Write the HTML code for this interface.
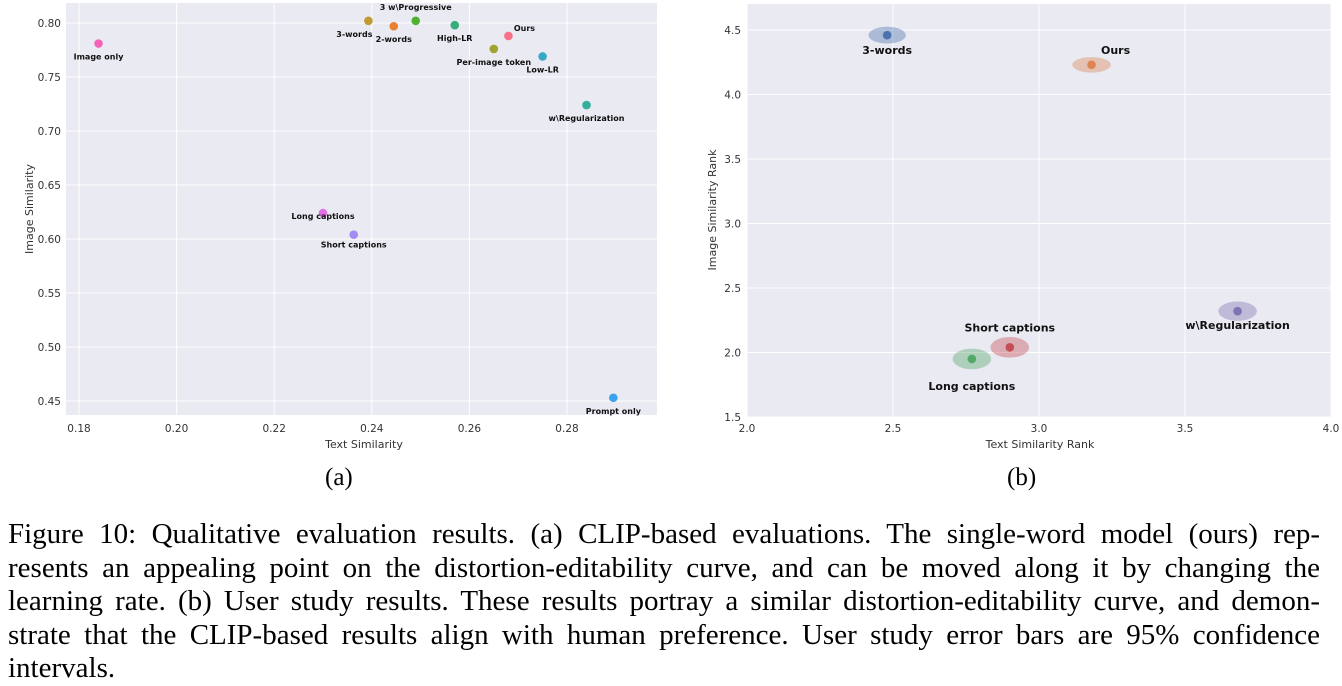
<!DOCTYPE html>
<html><head><meta charset="utf-8">
<style>
body{margin:0;background:#fff;width:1342px;height:682px;overflow:hidden;position:relative}
svg{position:absolute;left:0;top:0}
.cap{position:absolute;left:8px;top:518px;width:1312px;font-family:"Liberation Serif",serif;font-size:29px;line-height:33.6px;color:#000}
.cap div{text-align:justify;text-align-last:justify;white-space:nowrap}
.cap div.last{text-align-last:left}
.sub{position:absolute;top:464px;font-family:"Liberation Serif",serif;font-size:25px;color:#000}
</style></head><body>
<svg id="chart" width="1342" height="500"></svg>
<div class="sub" style="left:325px">(a)</div>
<div class="sub" style="left:1007px">(b)</div>
<div class="cap">
<div style="white-space:normal">Figure 10: Qualitative evaluation results. (a) CLIP-based evaluations. The single-word model (ours) rep-</div>
<div style="white-space:normal">resents an appealing point on the distortion-editability curve, and can be moved along it by changing the</div>
<div style="white-space:normal">learning rate. (b) User study results. These results portray a similar distortion-editability curve, and demon-</div>
<div style="white-space:normal">strate that the CLIP-based results align with human preference. User study error bars are 95% confidence</div>
<div class="last">intervals.</div>
</div>
<script>
const namesA=["Image only","3-words","2-words","3 w\\Progressive","High-LR","Ours","Per-image token","Low-LR","w\\Regularization","Long captions","Short captions","Prompt only"];
const textSimA=[0.184,0.2393,0.2445,0.249,0.257,0.268,0.265,0.275,0.284,0.230,0.2363,0.2895];
const imageSimA=[0.781,0.802,0.797,0.802,0.798,0.788,0.776,0.769,0.724,0.624,0.604,0.453];
const xTicksA=[0.18,0.20,0.22,0.24,0.26,0.28];
const yTicksA=[0.45,0.50,0.55,0.60,0.65,0.70,0.75,0.80];
const namesB=["3-words","Ours","w\\Regularization","Short captions","Long captions"];
const textRankB=[2.48,3.18,3.68,2.90,2.77];
const imageRankB=[4.46,4.23,2.32,2.04,1.95];
const xErrB=[0.064,0.066,0.066,0.066,0.066];
const yErrB=[0.065,0.06,0.075,0.08,0.08];
const xTicksB=[2.0,2.5,3.0,3.5,4.0];
const yTicksB=[1.5,2.0,2.5,3.0,3.5,4.0,4.5];

const colA=["#f563b8","#c09a30","#e8812d","#50b131","#36ae7c","#f77189","#a0a32f","#38a9c5","#34ae9d","#e46ee6","#a48cf4","#3ba3ec"];
const labOffA=[[0,16],[-14,16],[0,16],[0,-11],[0,16],[16,-5],[0,16],[0,16],[0,16],[0,6],[0,13],[0,16]];
const colB=["#4c72b0","#dd8452","#8172b3","#c44e52","#55a868"];
const labOffB=[[0,19],[24,-11],[0,18],[0,-16],[0,31]];

const svg=document.getElementById('chart');
const NS='http://www.w3.org/2000/svg';
function mk(tag,attrs,parent){const e=document.createElementNS(NS,tag);for(const k in attrs)e.setAttribute(k,attrs[k]);(parent||svg).appendChild(e);return e;}

// Panel A
const xA=v=>79+(v-0.18)/0.02*97.6, yA=v=>23+(0.80-v)*1080;
let g=mk('g',{});


let bg=mk('rect',{x:66,y:3,width:591,height:412,fill:'#eaeaf2'},g);


xTicksA.forEach(t=>{mk('line',{x1:xA(t),x2:xA(t),y1:3,y2:415,stroke:'#fff','stroke-width':1},g);
 const l=mk('text',{x:xA(t),y:432,'text-anchor':'middle','font-size':10.5,fill:'#333','font-family':'DejaVu Sans,sans-serif'},g);l.textContent=t.toFixed(2);
 
 });
yTicksA.forEach(t=>{mk('line',{x1:66,x2:657,y1:yA(t),y2:yA(t),stroke:'#fff','stroke-width':1},g);
 const l=mk('text',{x:61,y:yA(t)+4,'text-anchor':'end','font-size':10.5,fill:'#333','font-family':'DejaVu Sans,sans-serif'},g);l.textContent=t.toFixed(2);
 
 });
let t1=mk('text',{x:364,y:448,'text-anchor':'middle','font-size':11,fill:'#333','font-family':'DejaVu Sans,sans-serif'},g);t1.textContent='Text Similarity';


let t2=mk('text',{x:0,y:0,transform:'translate(33,209) rotate(-90)','text-anchor':'middle','font-size':11,fill:'#333','font-family':'DejaVu Sans,sans-serif'},g);t2.textContent='Image Similarity';


namesA.forEach((n,i)=>{const cx=xA(textSimA[i]),cy=yA(imageSimA[i]);
 const c=mk('circle',{cx:cx,cy:cy,r:4.3,fill:colA[i]},g);
 
 
 const l=mk('text',{x:cx+labOffA[i][0],y:cy+labOffA[i][1],'text-anchor':'middle','font-size':8,'font-weight':'bold',fill:'#111','font-family':'DejaVu Sans,sans-serif'},g);l.textContent=n;
 
 });

// Panel B
const xB=v=>747+(v-2)*292, yB=v=>417-(v-1.5)*129;
let h=mk('g',{});


let bg2=mk('rect',{x:747,y:4,width:584,height:413,fill:'#eaeaf2'},h);


xTicksB.forEach(t=>{mk('line',{x1:xB(t),x2:xB(t),y1:4,y2:417,stroke:'#fff','stroke-width':1},h);
 const l=mk('text',{x:xB(t),y:432,'text-anchor':'middle','font-size':10.5,fill:'#333','font-family':'DejaVu Sans,sans-serif'},h);l.textContent=t.toFixed(1);
 
 });
yTicksB.forEach(t=>{mk('line',{x1:747,x2:1331,y1:yB(t),y2:yB(t),stroke:'#fff','stroke-width':1},h);
 const l=mk('text',{x:741,y:yB(t)+4,'text-anchor':'end','font-size':10.5,fill:'#333','font-family':'DejaVu Sans,sans-serif'},h);l.textContent=t.toFixed(1);
 
 });
let t3=mk('text',{x:1040,y:448,'text-anchor':'middle','font-size':11,fill:'#333','font-family':'DejaVu Sans,sans-serif'},h);t3.textContent='Text Similarity Rank';


let t4=mk('text',{x:0,y:0,transform:'translate(716,210) rotate(-90)','text-anchor':'middle','font-size':11,fill:'#333','font-family':'DejaVu Sans,sans-serif'},h);t4.textContent='Image Similarity Rank';


namesB.forEach((n,i)=>{const cx=xB(textRankB[i]),cy=yB(imageRankB[i]);
 const e=mk('ellipse',{cx:cx,cy:cy,rx:xErrB[i]*292,ry:yErrB[i]*129,fill:colB[i],'fill-opacity':0.4},h);
 
 
 const c=mk('circle',{cx:cx,cy:cy,r:4.3,fill:colB[i]},h);
 
 
 const l=mk('text',{x:cx+labOffB[i][0],y:cy+labOffB[i][1],'text-anchor':'middle','font-size':11,'font-weight':'bold',fill:'#111','font-family':'DejaVu Sans,sans-serif'},h);l.textContent=n;
 
 });
</script>
</body></html>
